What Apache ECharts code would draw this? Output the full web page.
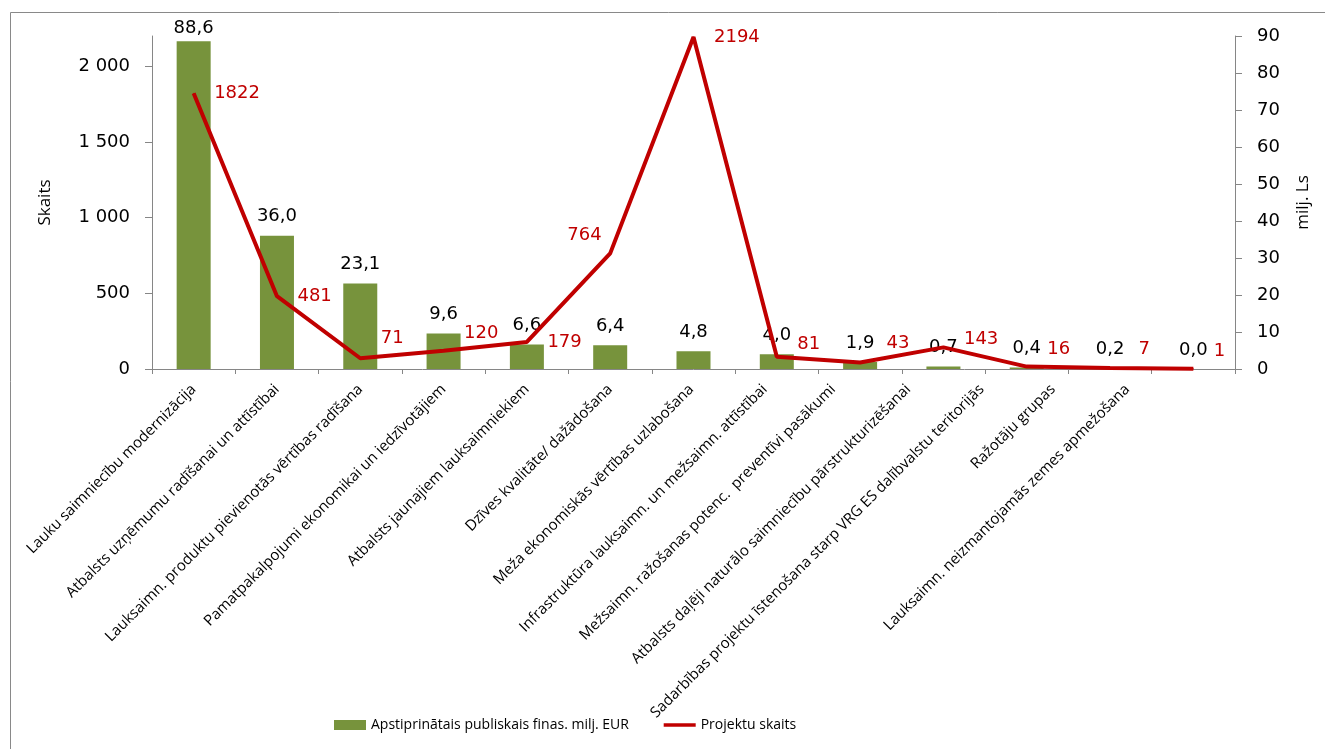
<!DOCTYPE html>
<html>
<head>
<meta charset="utf-8">
<script src="https://cdn.jsdelivr.net/npm/echarts@6/dist/echarts.min.js"></script>
<style>html,body{margin:0;padding:0;background:#fff;}#c{width:1325px;height:749px;}</style>
</head>
<body>
<div id="c"></div>
<script>
const categories = [
  'Lauku saimniecību modernizācija',
  'Atbalsts uzņēmumu radīšanai un attīstībai',
  'Lauksaimn. produktu pievienotās vērtības radīšana',
  'Pamatpakalpojumi ekonomikai un iedzīvotājiem',
  'Atbalsts jaunajiem lauksaimniekiem',
  'Dzīves kvalitāte/ dažādošana',
  'Meža ekonomiskās vērtības uzlabošana',
  'Infrastruktūra lauksaimn. un mežsaimn. attīstībai',
  'Mežsaimn. ražošanas potenc.  preventīvi pasākumi',
  'Atbalsts daļēji naturālo saimniecību pārstrukturizēšanai',
  'Sadarbības projektu īstenošana starp VRG ES dalībvalstu teritorijās',
  'Ražotāju grupas',
  'Lauksaimn. neizmantojamās zemes apmežošana'
];
const fundingEUR = [88.6, 36.0, 23.1, 9.6, 6.6, 6.4, 4.8, 4.0, 1.9, 0.7, 0.4, 0.2, 0.0];
const projectCount = [1822, 481, 71, 120, 179, 764, 2194, 81, 43, 143, 16, 7, 1];
const countTicks = [0, 500, 1000, 1500, 2000];

// label styling (not data)
const catLabelDrift = [0, 0, 0, 0, 0, 0, 2, 12, 27, 35, 45, 57, 66];
const countLabelPos = ['right','right','right','right','right','left','right','right','right','right','right','right','right'];
const countLabelOffset = [[0,0],[0,0],[0,-20],[0,-18],[0,0],[12,-18],[0,0],[0,-12],[6,-19],[0,-8],[0,-17],[8,-19],[0,-18]];
const fundLabelDist = [4,10,10,10,10,10,10,10,10,10,10,10,10];

const numFont = 'DejaVu Sans';
const txtFont = 'Open Sans';
const catFontSize = 15;

const rich = {};
catLabelDrift.forEach((m, i) => {
  rich['d' + i] = {
    fontFamily: txtFont, fontSize: catFontSize, color: '#000',
    padding: [0, m * 0.7071, m * 1.4142, 0]
  };
});

const fmtThousands = v => String(v).replace(/\B(?=(\d{3})+(?!\d))/g, ' ');

const chart = echarts.init(document.getElementById('c'), null, {renderer: 'canvas'});
chart.setOption({
  backgroundColor: '#fff',
  animation: false,
  graphic: [{
    type: 'rect', left: 8, top: 10, shape: {width: 1340, height: 760},
    style: {fill: 'none', stroke: '#898989', lineWidth: 1}, silent: true, z: -10
  }],
  grid: {left: 152, right: 90, top: 36, bottom: 380},
  legend: {
    left: 329, top: 713, itemWidth: 32, itemHeight: 10, itemGap: 33,
    textStyle: {fontFamily: txtFont, fontSize: 14, color: '#000'},
    data: [
      {name: 'Apstiprinātais publiskais finas. milj. EUR', icon: 'rect'},
      {name: 'Projektu skaits', itemStyle: {opacity: 0}, lineStyle: {width: 3.5}}
    ]
  },
  xAxis: {
    type: 'category', data: categories, boundaryGap: true,
    axisLine: {lineStyle: {color: '#868686', width: 1}},
    axisTick: {show: true, length: 5, alignWithLabel: false, lineStyle: {color: '#868686'}},
    axisLabel: {
      interval: 0, rotate: 45, margin: 18, color: '#000',
      fontFamily: txtFont, fontSize: catFontSize,
      formatter: (v, i) => '{d' + i + '|' + v + '}',
      rich: rich
    },
    splitLine: {show: false}
  },
  yAxis: [{
    type: 'value', min: 0, max: 2200, position: 'left',
    name: 'Skaits', nameLocation: 'middle', nameGap: 98,
    nameTextStyle: {fontFamily: txtFont, fontSize: 17, color: '#000'},
    axisLine: {show: true, lineStyle: {color: '#868686'}},
    axisTick: {show: true, length: 7, customValues: countTicks, lineStyle: {color: '#868686'}},
    axisLabel: {customValues: countTicks, margin: 22, color: '#000', fontFamily: numFont, fontSize: 18,
      formatter: v => fmtThousands(v)},
    splitLine: {show: false}
  }, {
    type: 'value', min: 0, max: 90, interval: 10, position: 'right',
    name: 'milj. Ls', nameLocation: 'middle', nameGap: 60, nameRotate: 90,
    nameTextStyle: {fontFamily: txtFont, fontSize: 17, color: '#000'},
    axisLine: {show: true, lineStyle: {color: '#868686'}},
    axisTick: {show: true, length: 7, lineStyle: {color: '#868686'}},
    axisLabel: {margin: 22, color: '#000', fontFamily: numFont, fontSize: 18},
    splitLine: {show: false}
  }],
  series: [{
    name: 'Apstiprinātais publiskais finas. milj. EUR',
    type: 'bar', yAxisIndex: 1, barWidth: 34,
    itemStyle: {color: '#77933C'},
    data: fundingEUR.map((v, i) => ({
      value: v,
      label: {distance: fundLabelDist[i]}
    })),
    label: {
      show: true, position: 'top', color: '#000', fontFamily: numFont, fontSize: 18,
      formatter: p => p.value.toFixed(1).replace('.', ',')
    },
    z: 2
  }, {
    name: 'Projektu skaits',
    type: 'line', yAxisIndex: 0, symbol: 'circle', symbolSize: 1, showSymbol: true,
    lineStyle: {color: '#C00000', width: 4},
    itemStyle: {color: '#C00000'},
    data: projectCount.map((v, i) => ({
      value: v,
      label: {position: countLabelPos[i], offset: countLabelOffset[i]}
    })),
    label: {
      show: true, distance: 20, color: '#C00000', fontFamily: numFont, fontSize: 18,
      formatter: p => String(p.value)
    },
    z: 3
  }]
});
</script>
</body>
</html>
